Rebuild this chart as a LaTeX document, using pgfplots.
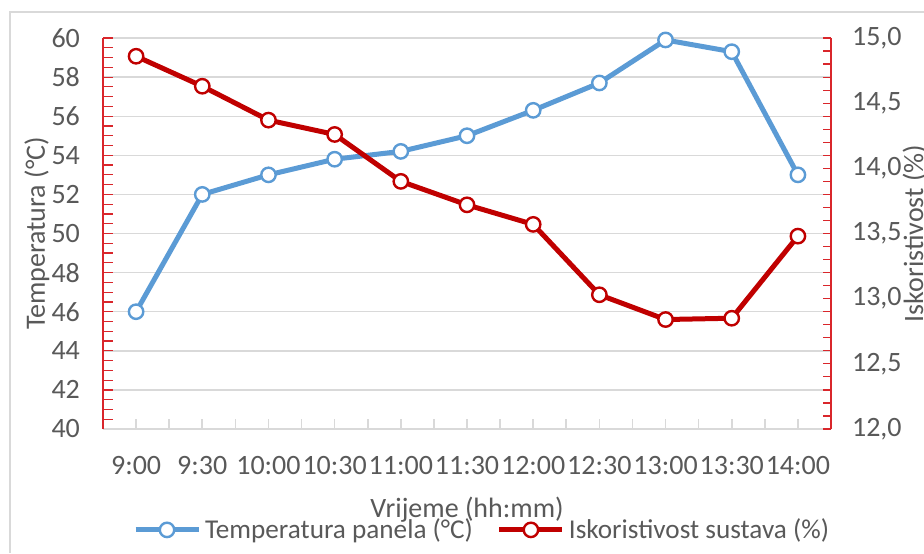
\documentclass[border=0pt]{standalone}
\usepackage{fontspec}
\setmainfont{Carlito}
\usepackage{pgfplots}
\pgfplotsset{compat=1.18}
\definecolor{tempblue}{HTML}{5B9BD5}
\definecolor{effred}{HTML}{C00000}
\definecolor{axred}{HTML}{D9262B}
\definecolor{txtgray}{HTML}{595959}
\definecolor{gridgray}{HTML}{D9D9D9}

\newcommand{\chartfont}{\fontsize{14}{16}\selectfont}

\pgfplotsset{
  twin/.style={
    scale only axis, width=364pt, height=195.5pt,
    at={(51.5pt,62pt)}, anchor=south west,
    xmin=-0.5, xmax=10.5,
    font=\chartfont,
    tick label style={font=\chartfont, text=txtgray},
    label style={font=\chartfont, text=txtgray},
    /pgf/number format/assume math mode=true,
    axis line style={-},
  },
  series/.style={
    color=#1, line width=2.5pt, mark=*, mark size=3.6pt,
    mark options={fill=white, line width=1.2pt, solid},
  },
}

\begin{document}
\begin{tikzpicture}
\path[use as bounding box] (0,0) rectangle (462pt,276.5pt);
% chart frame
\draw[gridgray, line width=0.8pt] (5pt,0pt) -- (5pt,270.5pt) -- (462pt,270.5pt);

\begin{axis}[twin,
  axis x line*=bottom, axis y line*=left,
  x axis line style={gridgray, line width=0.8pt},
  y axis line style={axred, line width=0.75pt},
  ymin=40, ymax=60, ytick={40,42,...,60}, minor y tick num=3,
  xtick={0,...,10}, minor xtick={-0.5,0.5,...,10.5},
  xticklabels={9:00,9:30,10:00,10:30,11:00,11:30,12:00,12:30,13:00,13:30,14:00},
  major tick length=5pt, minor tick length=5pt,
  every x tick/.style={gridgray, line width=0.8pt},
  every minor x tick/.style={gridgray, line width=0.8pt},
  every y tick/.style={axred, line width=0.6pt},
  every minor y tick/.style={axred, line width=0.6pt},
  ymajorgrids, major grid style={gridgray, line width=0.7pt},
  yticklabel style={xshift=-8pt},
  xticklabel style={anchor=center, yshift=-18.5pt},
  xlabel={Vrijeme (hh:mm)},
  xlabel style={at={(0.5,-0.207)}, anchor=center},
  ylabel={Temperatura (°C)},
  ylabel style={at={(-0.0907,0.5)}, anchor=center, rotate=0},
]
\addplot[series=tempblue] coordinates {
  (0,46.0) (1,52.0) (2,53.0) (3,53.8) (4,54.2) (5,55.0)
  (6,56.3) (7,57.7) (8,59.9) (9,59.3) (10,53.0)
};
\end{axis}

\begin{axis}[twin,
  axis x line=none, axis y line*=right,
  y axis line style={axred, line width=0.75pt},
  ymin=12, ymax=15, ytick={12,12.5,...,15}, minor y tick num=4,
  major tick length=4pt, minor tick length=4pt,
  every y tick/.style={axred, line width=0.6pt},
  every minor y tick/.style={axred, line width=0.6pt},
  yticklabel style={xshift=7pt, /pgf/number format/.cd, fixed, fixed zerofill, precision=1, use comma},
  ylabel={Iskoristivost (\%)},
  ylabel style={at={(1.115,0.5)}, anchor=center, rotate=0},
  legend columns=2,
  legend style={at={(0.522,-0.258)}, anchor=center, draw=none, fill=none,
    font=\fontsize{13.6}{15}\selectfont, text=txtgray,
    /tikz/every even column/.append style={column sep=10pt}},
  legend image code/.code={\draw[mark repeat=2,mark phase=2,#1] plot coordinates {(0pt,0pt) (15.75pt,0pt) (31.5pt,0pt)};},
]
\addlegendimage{series=tempblue}
\addlegendentry{Temperatura panela (°C)}
\addplot[series=effred] coordinates {
  (0,14.86) (1,14.63) (2,14.37) (3,14.26) (4,13.90) (5,13.72)
  (6,13.57) (7,13.03) (8,12.84) (9,12.85) (10,13.48)
};
\addlegendentry{Iskoristivost sustava (\%)}
\end{axis}
\end{tikzpicture}
\end{document}
